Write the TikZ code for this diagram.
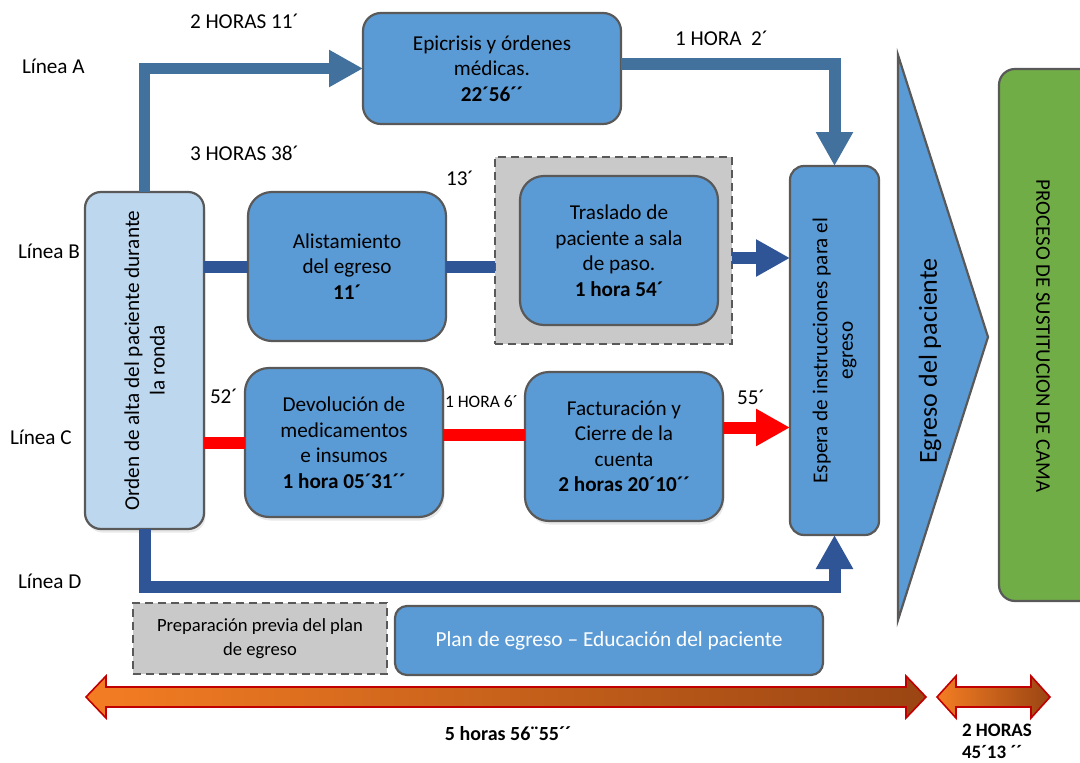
\documentclass[tikz,border=0pt]{standalone}
\usepackage{fontspec}
\setmainfont{Carlito}
\usetikzlibrary{arrows.meta,shadows}

\definecolor{boxblue}{HTML}{5B9BD5}
\definecolor{paleblue}{HTML}{BDD7EE}
\definecolor{edgegray}{HTML}{595959}
\definecolor{steelA}{HTML}{41719C}
\definecolor{navyB}{HTML}{2F5597}
\definecolor{framegray}{HTML}{C9C9C9}
\definecolor{bedgreen}{HTML}{70AD47}
\definecolor{tlorange}{HTML}{F47D23}
\definecolor{tlbrown}{HTML}{9A4513}
\definecolor{tlred}{HTML}{C00000}

\begin{document}
\begin{tikzpicture}[x=1pt, y=-1pt,
  every node/.style={inner sep=0pt, outer sep=0pt,
    font=\fontsize{21.2}{25.5}\selectfont},
  procbox/.style={draw=edgegray, line width=2.2pt, fill=boxblue,
    align=center, rounded corners=24pt},
  softshadow/.style={drop shadow={opacity=0.18, shadow xshift=1.5pt,
    shadow yshift=-3.5pt}},
  dashbox/.style={draw=edgegray, line width=2.2pt, fill=framegray,
    dash pattern=on 8pt off 5pt},
  conn/.style={line width=12pt, line join=miter},
  bigtip/.style={-{Triangle[width=35pt,length=34pt]}},
  lbl/.style={anchor=west},
  timeline/.style={draw=tlred, line width=1.6pt, left color=tlorange,
    right color=tlbrown, line join=miter}
]
\useasboundingbox (0,0) rectangle (1080,763);

% ---- process boxes ----
\node[procbox, rounded corners=18pt, minimum width=258, minimum height=111]
  (epi) at (492,68.5) {Epicrisis y órdenes\\médicas.\\\textbf{22´56´´}};
\node[procbox, fill=paleblue, rounded corners=16pt, softshadow,
  minimum width=119, minimum height=337] (orden) at (144.5,360.5) {};
\node[rotate=90, align=center] (ordentxt) at (orden)
  {Orden de alta del paciente durante\\la ronda};
\node[procbox, minimum width=198, minimum height=149]
  (ali) at (347,266.5) {Alistamiento\\del egreso\\\textbf{11´}};
\node[dashbox, minimum width=237, minimum height=187]
  (frame) at (613.5,250.5) {};
\node[procbox, minimum width=198, minimum height=149]
  (tras) at (619,250.5) {Traslado de\\paciente a sala\\de paso.\\\textbf{1 hora 54´}};
\node[procbox, softshadow, minimum width=198, minimum height=149]
  (dev) at (344,442.5) {Devolución de\\medicamentos\\e insumos\\\textbf{1 hora 05´31´´}};
\node[procbox, softshadow, minimum width=198, minimum height=149]
  (fac) at (624,446.5) {Facturación y\\Cierre de la\\cuenta\\\textbf{2 horas 20´10´´}};
\node[procbox, rounded corners=14pt, minimum width=89, minimum height=369]
  (esp) at (834.5,350.5) {};
\node[rotate=90, align=center] (esptxt) at (esp)
  {Espera de instrucciones para el\\egreso};

% ---- discharge wedge and bed-replacement block ----
\draw[draw=edgegray, line width=2.2pt, fill=boxblue]
  (898,55) -- (988,337) -- (898,620) -- cycle;
\node[rotate=90, font=\fontsize{26}{30}\selectfont] (egr) at (930,361)
  {Egreso del paciente};
\node[draw=edgegray, line width=2.2pt, fill=bedgreen, rounded corners=16pt,
  minimum width=101, minimum height=532] (cama) at (1049.5,335) {};
\node[rotate=-90, font=\fontsize{20.8}{24}\selectfont] (camatxt) at (1043,336)
  {PROCESO DE SUSTITUCION DE CAMA};

% ---- discharge plan strip ----
\node[dashbox, minimum width=254, minimum height=71, align=center,
  font=\fontsize{18.6}{24}\selectfont] (prep) at (260,638.5)
  {Preparación previa del plan\\de egreso};
\node[procbox, rounded corners=12pt, minimum width=428, minimum height=69,
  text=white, font=\fontsize{21.4}{25}\selectfont] (plan) at (609,640.5)
  {Plan de egreso – Educación del paciente};

% ---- line A ----
\draw[conn, steelA, line width=11pt, bigtip] (orden.north) |- (epi.west);
\draw[conn, steelA, bigtip] ([yshift=4.5pt]epi.east) -| (esp.north);
% ---- line B ----
\draw[conn, navyB] (orden.east |- ali.west) -- (ali.west);
\draw[conn, navyB] (ali.east) -- (ali.east -| frame.west);
\draw[conn, navyB, bigtip] ([yshift=-7.5pt]frame.east)
  -- ([yshift=-7.5pt]frame.east -| esp.west);
% ---- line C ----
\draw[conn, red] (orden.east |- dev.west) -- (dev.west);
\draw[conn, red] ([yshift=8pt]dev.east) -- ([yshift=8pt]dev.east -| fac.west);
\draw[conn, red, bigtip] ([yshift=19pt]fac.east)
  -- ([yshift=19pt]fac.east -| esp.west);
% ---- line D ----
\draw[conn, navyB, bigtip] (orden.south) -- ++(0,58) -| (esp.south);

% ---- labels ----
\node[lbl] (hA) at (190,21) {2 HORAS 11´};
\node[lbl] (lA) at (22,66) {Línea A};
\node[lbl] (hB) at (190,153) {3 HORAS 38´};
\node[lbl] (lB) at (18,251) {Línea B};
\node[lbl] (lC) at (10,437) {Línea C};
\node[lbl] (lD) at (18,581) {Línea D};
\node[lbl] (t13) at (446,178) {13´};
\node[lbl] (t52) at (210,396) {52´};
\node[lbl, font=\fontsize{17.5}{20}\selectfont] (t106) at (445,402) {1 HORA 6´};
\node[lbl] (t55) at (737,397) {55´};
\node[lbl] (t102) at (675,38) {1 HORA\ \ 2´};

% ---- time bars ----
\shadedraw[timeline]
  (86,697) -- (106,676) -- (106,687) -- (906,687) -- (906,676) -- (926,697)
  -- (906,718) -- (906,707) -- (106,707) -- (106,718) -- cycle;
\shadedraw[timeline]
  (937,697) -- (956,676) -- (956,687) -- (1031,687) -- (1031,676) -- (1050,697)
  -- (1031,718) -- (1031,707) -- (956,707) -- (956,718) -- cycle;
\node[font=\fontsize{20}{24}\selectfont\bfseries] (ttotal) at (508,734)
  {5 horas 56¨55´´};
\node[lbl, align=left, font=\fontsize{19}{22}\selectfont\bfseries] (tcama)
  at (962,741) {2 HORAS\\45´13 ´´};
\end{tikzpicture}
\end{document}
